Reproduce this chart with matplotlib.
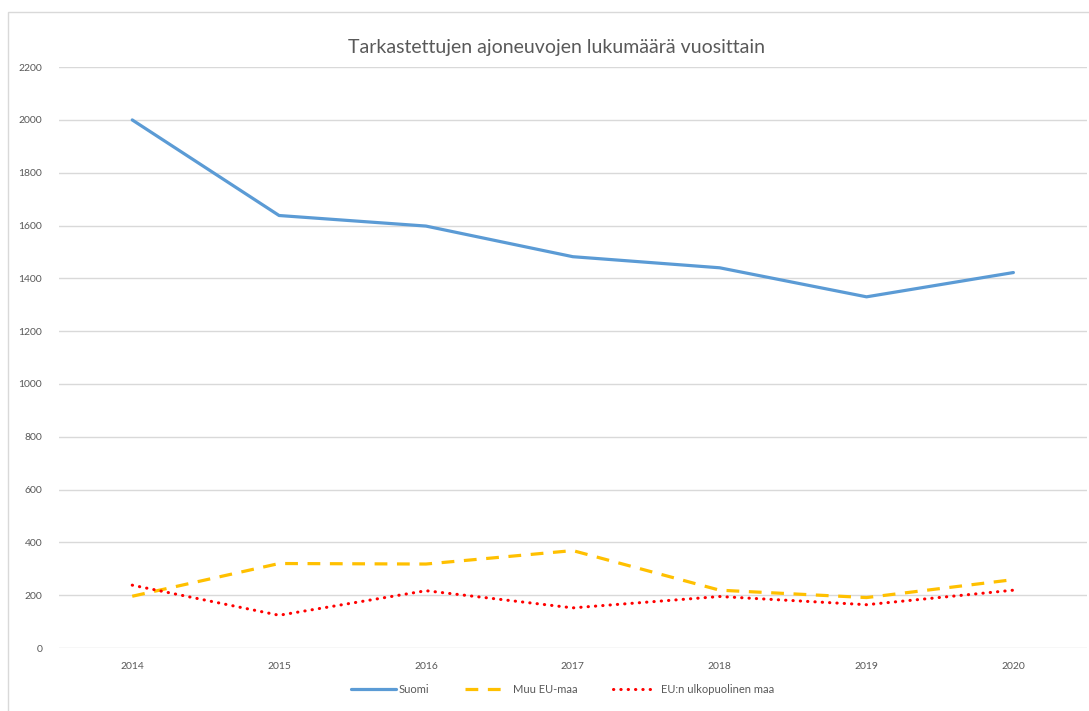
import matplotlib
matplotlib.use("Agg")
import matplotlib.pyplot as plt
from matplotlib.patches import Rectangle

plt.rcParams['font.family'] = ['Lato', 'DejaVu Sans']

years = ['2014', '2015', '2016', '2017', '2018', '2019', '2020']
suomi = [2000, 1638, 1598, 1482, 1440, 1330, 1422]
muu_eu = [196, 320, 318, 369, 219, 191, 259]
eu_ulko = [238, 124, 217, 152, 195, 164, 219]

fig = plt.figure(figsize=(10.89, 7.11), dpi=100)
ax = fig.add_axes([0.054, 0.0886, 0.944, 0.817])

x = list(range(len(years)))
ax.plot(x, suomi, color='#5b9bd5', linewidth=2.3, label='Suomi', solid_capstyle='round')
ax.plot(x, muu_eu, color='#ffc000', linewidth=2.3, linestyle=(0, (4, 3)), label='Muu EU-maa')
ax.plot(x, eu_ulko, color='#ff0000', linewidth=2.2, linestyle=(0, (0.1, 2.3)),
        dash_capstyle='round', label='EU:n ulkopuolinen maa')

ax.set_xlim(-0.5, len(years) - 0.5)
ax.set_ylim(0, 2200)
ax.set_yticks(range(0, 2201, 200))
ax.set_xticks(x)
ax.set_xticklabels(years)
ax.grid(axis='y', color='#d9d9d9', linewidth=1)
ax.set_axisbelow(True)
for s in ax.spines.values():
    s.set_visible(False)
ax.tick_params(length=0, labelsize=7.5, colors='#595959', pad=12)
ax.tick_params(axis='x', pad=10)

fig.suptitle('Tarkastettujen ajoneuvojen lukumäärä vuosittain', x=0.511, y=0.945,
             fontsize=14, color='#595959')

leg = ax.legend(loc='upper center', bbox_to_anchor=(0.49, -0.045), ncol=3, frameon=False,
                fontsize=8, handlelength=4, columnspacing=3.2, handletextpad=0.3)
for t in leg.get_texts():
    t.set_color('#595959')

fig.patches.append(Rectangle((8 / 1089, -0.01), 1.02, 1 - 12 / 711 + 0.01, transform=fig.transFigure,
                             fill=False, edgecolor='#d9d9d9', linewidth=1))

fig.savefig('out.png', dpi=100)
